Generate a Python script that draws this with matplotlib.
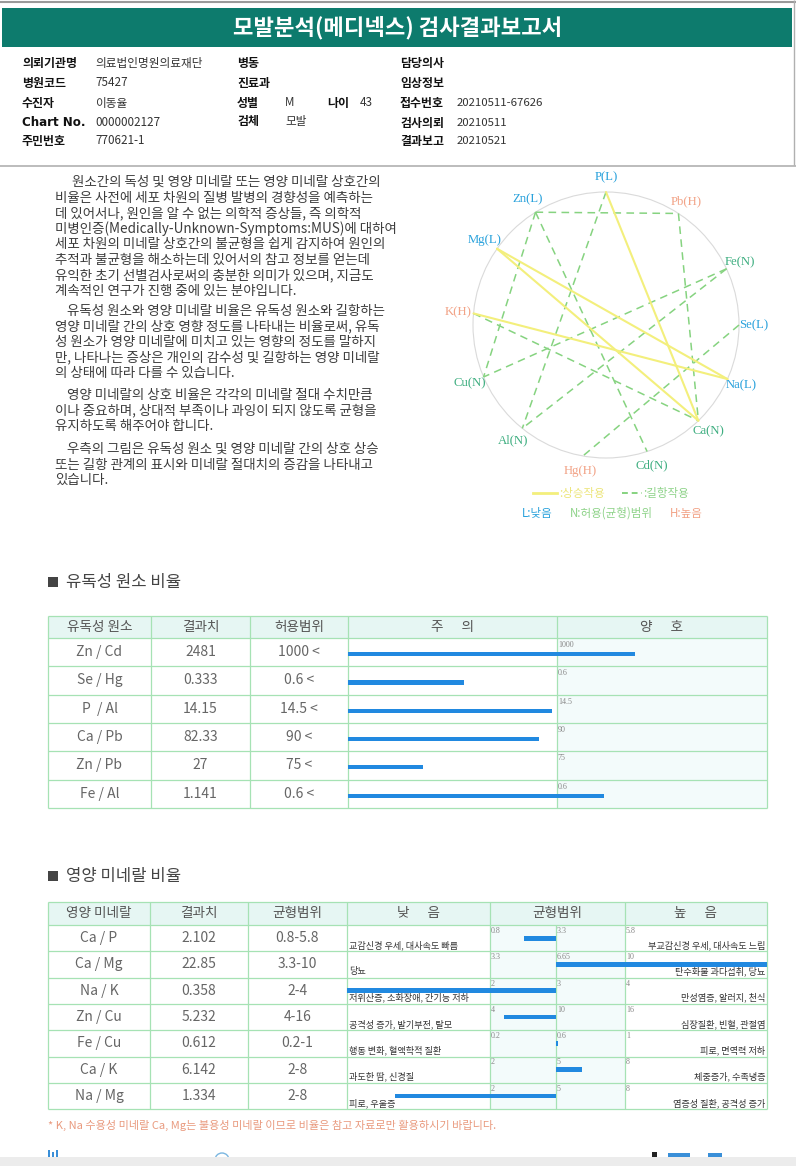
import matplotlib
matplotlib.use("Agg")
import matplotlib.pyplot as plt
import numpy as np
from matplotlib.patches import Rectangle, Circle

KR = ['Noto Sans CJK KR', 'DejaVu Sans']
SERIF = ['Liberation Serif', 'DejaVu Serif']

# ------------------------------------------------------------------ data
title = "모발분석(메디넥스) 검사결과보고서"
info_left_labels = ["의뢰기관명", "병원코드", "수진자", "Chart No.", "주민번호"]
info_left_values = ["의료법인명원의료재단", "75427", "이동율", "0000002127", "770621-1"]
info_right_labels = ["담당의사", "임상정보", "접수번호", "검사의뢰", "결과보고"]
info_right_values = ["", "", "20210511-67626", "20210511", "20210521"]

paragraphs = [
    ["원소간의 독성 및 영양 미네랄 또는 영양 미네랄 상호간의",
     "비율은 사전에 세포 차원의 질병 발병의 경향성을 예측하는",
     "데 있어서나, 원인을 알 수 없는 의학적 증상들, 즉 의학적",
     "미병인증(Medically-Unknown-Symptoms:MUS)에 대하여",
     "세포 차원의 미네랄 상호간의 불균형을 쉽게 감지하여 원인의",
     "추적과 불균형을 해소하는데 있어서의 참고 정보를 얻는데",
     "유익한 초기 선별검사로써의 충분한 의미가 있으며, 지금도",
     "계속적인 연구가 진행 중에 있는 분야입니다."],
    ["유독성 원소와 영양 미네랄 비율은 유독성 원소와 길항하는",
     "영양 미네랄 간의 상호 영향 정도를 나타내는 비율로써, 유독",
     "성 원소가 영양 미네랄에 미치고 있는 영향의 정도를 말하지",
     "만, 나타나는 증상은 개인의 감수성 및 길항하는 영양 미네랄",
     "의 상태에 따라 다를 수 있습니다."],
    ["영양 미네랄의 상호 비율은 각각의 미네랄 절대 수치만큼",
     "이나 중요하며, 상대적 부족이나 과잉이 되지 않도록 균형을",
     "유지하도록 해주어야 합니다."],
    ["우측의 그림은 유독성 원소 및 영양 미네랄 간의 상호 상승",
     "또는 길항 관계의 표시와 미네랄 절대치의 증감을 나타내고",
     "있습니다."],
]

# circle diagram
node_names = ["P", "Zn", "Mg", "K", "Cu", "Al", "Hg", "Cd", "Ca", "Na", "Se", "Fe", "Pb"]
node_status = ["L", "L", "L", "H", "N", "N", "H", "N", "N", "L", "L", "N", "H"]
synergy_pairs = [("P", "Ca"), ("Mg", "Na"), ("Mg", "Ca"), ("K", "Na")]
antagonism_pairs = [("Zn", "Pb"), ("Pb", "Ca"), ("Zn", "Cu"), ("Zn", "Cd"), ("P", "Al"),
                    ("Fe", "Cu"), ("Fe", "Al"), ("Se", "Hg"), ("K", "Ca")]

# toxic element ratios
toxic_ratios = ["Zn / Cd", "Se / Hg", "P  / Al", "Ca / Pb", "Zn / Pb", "Fe / Al"]
toxic_values = [2481, 0.333, 14.15, 82.33, 27, 1.141]
toxic_value_labels = ["2481", "0.333", "14.15", "82.33", "27", "1.141"]
toxic_limits = [1000, 0.6, 14.5, 90, 75, 0.6]
toxic_limit_labels = ["1000", "0.6", "14.5", "90", "75", "0.6"]

# nutritional mineral ratios
nutri_ratios = ["Ca / P", "Ca / Mg", "Na / K", "Zn / Cu", "Fe / Cu", "Ca / K", "Na / Mg"]
nutri_values = [2.102, 22.85, 0.358, 5.232, 0.612, 6.142, 1.334]
nutri_value_labels = ["2.102", "22.85", "0.358", "5.232", "0.612", "6.142", "1.334"]
nutri_low = [0.8, 3.3, 2, 4, 0.2, 2, 2]
nutri_mid = [3.3, 6.65, 3, 10, 0.6, 5, 5]
nutri_high = [5.8, 10, 4, 16, 1, 8, 8]
nutri_low_lbl = ["0.8", "3.3", "2", "4", "0.2", "2", "2"]
nutri_mid_lbl = ["3.3", "6.65", "3", "10", "0.6", "5", "5"]
nutri_high_lbl = ["5.8", "10", "4", "16", "1", "8", "8"]
nutri_range_lbl = ["0.8-5.8", "3.3-10", "2-4", "4-16", "0.2-1", "2-8", "2-8"]
nutri_low_text = ["교감신경 우세, 대사속도 빠름", "당뇨", "저위산증, 소화장애, 간기능 저하",
                  "공격성 증가, 발기부전, 탈모", "행동 변화, 혈액학적 질환", "과도한 땀, 신경질",
                  "피로, 우울증"]
nutri_high_text = ["부교감신경 우세, 대사속도 느림", "탄수화물 과다섭취, 당뇨", "만성염증, 알러지, 천식",
                   "심장질환, 빈혈, 관절염", "피로, 면역력 저하", "체중증가, 수족냉증",
                   "염증성 질환, 공격성 증가"]

footnote = "* K, Na 수용성 미네랄 Ca, Mg는 불용성 미네랄 이므로 비율은 참고 자료로만 활용하시기 바랍니다."

# ------------------------------------------------------------------ layout
W, H = 796, 1166
fig = plt.figure(figsize=(W / 100, H / 100), dpi=100)
ax = fig.add_axes([0, 0, 1, 1])
ax.set_xlim(0, W)
ax.set_ylim(H, 0)
ax.axis('off')

TEAL = '#0d7b6d'
GRID = '#a6e2b4'
HEAD_FILL = '#e6f6f3'
LIGHT_FILL = '#f3fbfb'
BAR = '#2189e0'
COL_L, COL_N, COL_H = '#2aa2dc', '#3eae80', '#f2a387'


def T(x, y, s, size=9, color='#222', ha='left', va='center', weight='normal', family=KR, **kw):
    ax.text(x, y, s, fontsize=size, color=color, ha=ha, va=va, fontweight=weight,
            family=family, **kw)


def hline(y, x0, x1, color=GRID, lw=0.9):
    ax.plot([x0, x1], [y, y], color=color, lw=lw, solid_capstyle='butt')


def vline(x, y0, y1, color=GRID, lw=0.9):
    ax.plot([x, x], [y0, y1], color=color, lw=lw, solid_capstyle='butt')


# ---- header box
hline(1.5, 0, W, color='#9a9a9a', lw=1.5)
hline(165.5, 0, W, color='#b0b0b0', lw=1.2)
vline(794, 0, 165, color='#b0b0b0', lw=1.0)
ax.add_patch(Rectangle((2, 8), 790, 39, color=TEAL, lw=0))
T(398, 28, title, size=16, color='white', ha='center', weight='bold')

info_y = [63, 83, 103, 123, 141]
for i, y in enumerate(info_y):
    T(22, y, info_left_labels[i], size=8.6, color='#111', weight='bold',
      family=['DejaVu Sans', 'Noto Sans CJK KR'] if i == 3 else KR)
    T(95, y, info_left_values[i], size=8.4, color='#333')
    T(400, y, info_right_labels[i], size=8.6, color='#111', weight='bold')
    if info_right_values[i]:
        T(457, y, info_right_values[i], size=8.2, color='#333')
T(237, info_y[0], "병동", size=8.6, color='#111', weight='bold')
T(237, info_y[1], "진료과", size=8.6, color='#111', weight='bold')
T(237, info_y[2], "성별", size=8.6, color='#111', weight='bold')
T(285, info_y[2], "M", size=8.4, color='#333')
T(327, info_y[2], "나이", size=8.6, color='#111', weight='bold')
T(360, info_y[2], "43", size=8.4, color='#333')
T(237, info_y[3] - 2, "검체", size=8.6, color='#111', weight='bold')
T(285, info_y[3] - 2, "모발", size=8.4, color='#333')

# ---- explanatory paragraphs
para_start = [182, 311, 395, 449]
line_h = 15.6
for p, lines in enumerate(paragraphs):
    for j, line in enumerate(lines):
        x = (72 if p == 0 else 67) if j == 0 else 55
        T(x, para_start[p] + j * line_h, line, size=9.7, color='#3c3c3c')

# ---- circle diagram
node_angles = [90, 122, 145, 175, 203, 231, 260, 288, 314, 336, 0, 25, 57]  # layout angles (deg)
cx, cy, R = 606, 325, 133
ax.add_patch(Circle((cx, cy), R, fill=False, ec='#dadada', lw=0.8))
pos = {}
for n, a in zip(node_names, node_angles):
    t = np.radians(a)
    pos[n] = (cx + R * np.cos(t), cy - R * np.sin(t))
for a, b in synergy_pairs:
    ax.plot([pos[a][0], pos[b][0]], [pos[a][1], pos[b][1]], color='#f3ef7c', lw=1.5,
            solid_capstyle='round', zorder=3)
for a, b in antagonism_pairs:
    ax.plot([pos[a][0], pos[b][0]], [pos[a][1], pos[b][1]], color='#86d380', lw=1.1,
            ls=(0, (5, 3.5)), zorder=2)
status_color = {"L": COL_L, "N": COL_N, "H": COL_H}
for n, s, a in zip(node_names, node_status, node_angles):
    t = np.radians(a)
    T(cx + 148 * np.cos(t), cy - 148 * np.sin(t), f"{n}({s})", size=9.2,
      color=status_color[s], ha='center', family=SERIF)

# legend
ax.plot([533, 557], [493, 493], color='#f3ef7c', lw=2)
T(559, 493, ":상승작용", size=8.3, color='#ece57a')
ax.plot([622, 642], [493, 493], color='#86d380', lw=1.4, ls=(0, (3, 2)))
T(643, 493, ":길항작용", size=8.3, color='#8fd38a')
T(522, 513, "L:낮음", size=8.3, color=COL_L)
T(570, 513, "N:허용(균형)범위", size=8.3, color='#8fd38a')
T(670, 513, "H:높음", size=8.3, color=COL_H)

# ---- section 1 : toxic ratios
ax.add_patch(Rectangle((48, 577), 10, 10, color='#444', lw=0))
T(66, 582, "유독성 원소 비율", size=12, color='#444')

t_cols = [48, 151, 250, 348, 557, 767]
t_top, t_head, t_row = 616, 22, 28.3
n_t = len(toxic_ratios)
t_bot = t_top + t_head + n_t * t_row
ax.add_patch(Rectangle((t_cols[0], t_top), t_cols[-1] - t_cols[0], t_head, color=HEAD_FILL, lw=0))
ax.add_patch(Rectangle((t_cols[4], t_top + t_head), t_cols[5] - t_cols[4], n_t * t_row,
                       color=LIGHT_FILL, lw=0))
for x in t_cols:
    vline(x, t_top, t_bot)
hline(t_top, t_cols[0], t_cols[-1])
for i in range(n_t + 1):
    hline(t_top + t_head + i * t_row, t_cols[0], t_cols[-1])
hy = t_top + t_head / 2
for k, h in enumerate(["유독성 원소", "결과치", "허용범위", "주      의", "양      호"]):
    T((t_cols[k] + t_cols[k + 1]) / 2, hy, h, size=9.8, color='#555', ha='center')

t_centers = t_top + t_head + (np.arange(n_t) + 0.5) * t_row
ratio_t = np.array(toxic_values) / np.array(toxic_limits)
t_end = np.interp(ratio_t, [0, 1, 5], [t_cols[3], t_cols[4], t_cols[5]])
ax.barh(t_centers + 2, t_end - t_cols[3], left=t_cols[3], height=4.2, color=BAR, zorder=4)
for i, yc in enumerate(t_centers):
    T((t_cols[0] + t_cols[1]) / 2, yc, toxic_ratios[i], size=10, color='#666', ha='center')
    T((t_cols[1] + t_cols[2]) / 2, yc, toxic_value_labels[i], size=10, color='#666', ha='center')
    T((t_cols[2] + t_cols[3]) / 2, yc, toxic_limit_labels[i] + " <", size=10, color='#666',
      ha='center')
    T(t_cols[4] + 1, yc - 7, toxic_limit_labels[i], size=5.8, color='#888', family=SERIF)

# ---- section 2 : nutritional ratios
ax.add_patch(Rectangle((48, 871), 10, 10, color='#444', lw=0))
T(66, 876, "영양 미네랄 비율", size=12, color='#444')

n_cols = [48, 150, 248, 347, 490, 556, 625, 767]
n_top, n_head, n_row = 902, 23, 26.3
n_n = len(nutri_ratios)
n_bot = n_top + n_head + n_n * n_row
ax.add_patch(Rectangle((n_cols[0], n_top), n_cols[-1] - n_cols[0], n_head, color=HEAD_FILL, lw=0))
ax.add_patch(Rectangle((n_cols[4], n_top + n_head), n_cols[6] - n_cols[4], n_n * n_row,
                       color=LIGHT_FILL, lw=0))
for k, x in enumerate(n_cols):
    vline(x, n_top if k != 5 else n_top + n_head, n_bot)
hline(n_top, n_cols[0], n_cols[-1])
for i in range(n_n + 1):
    hline(n_top + n_head + i * n_row, n_cols[0], n_cols[-1])
hy = n_top + n_head / 2
heads = [("영양 미네랄", 0, 1), ("결과치", 1, 2), ("균형범위", 2, 3), ("낮      음", 3, 4),
         ("균형범위", 4, 6), ("높      음", 6, 7)]
for h, a, b in heads:
    T((n_cols[a] + n_cols[b]) / 2, hy, h, size=9.8, color='#555', ha='center')

n_centers = n_top + n_head + (np.arange(n_n) + 0.5) * n_row
edges_px = [n_cols[3], n_cols[4], n_cols[5], n_cols[6], n_cols[7]]
n_pos = np.array([np.interp(v, [lo / 2, lo, mi, hi, 2 * hi], edges_px)
                  for v, lo, mi, hi in zip(nutri_values, nutri_low, nutri_mid, nutri_high)])
mid_pos = np.array([np.interp(mi, [lo / 2, lo, mi, hi, 2 * hi], edges_px)
                    for lo, mi, hi in zip(nutri_low, nutri_mid, nutri_high)])
left = np.minimum(n_pos, mid_pos)
width = np.maximum(np.abs(n_pos - mid_pos), 1.2)
ax.barh(n_centers, width, left=left, height=4.8, color=BAR, zorder=4)
for i, yc in enumerate(n_centers):
    top = yc - n_row / 2
    bot = yc + n_row / 2
    T((n_cols[0] + n_cols[1]) / 2, yc, nutri_ratios[i], size=10, color='#666', ha='center')
    T((n_cols[1] + n_cols[2]) / 2, yc, nutri_value_labels[i], size=10, color='#666', ha='center')
    T((n_cols[2] + n_cols[3]) / 2, yc, nutri_range_lbl[i], size=10, color='#666', ha='center')
    T(n_cols[4] + 1, top + 6, nutri_low_lbl[i], size=5.8, color='#888', family=SERIF)
    T(n_cols[5] + 1, top + 6, nutri_mid_lbl[i], size=5.8, color='#888', family=SERIF)
    T(n_cols[6] + 1, top + 6, nutri_high_lbl[i], size=5.8, color='#888', family=SERIF)
    T(n_cols[3] + 2, bot - 6, nutri_low_text[i], size=6.6, color='#333')
    T(n_cols[7] - 2, bot - 6, nutri_high_text[i], size=6.6, color='#333', ha='right')

T(48, 1125, footnote, size=8.0, color='#e99a7e')

# ---- cut-off footer
for k in range(3):
    ax.add_patch(Rectangle((48 + k * 4, 1150 + (k % 2) * 2), 2.2, 8, color='#3a8fd8', lw=0))
ax.add_patch(Circle((222, 1160), 7, fill=False, ec='#7ab6e0', lw=1))
ax.add_patch(Rectangle((652, 1152), 5, 6, color='#222', lw=0))
ax.add_patch(Rectangle((668, 1153), 22, 5, color='#3a8fd8', lw=0))
ax.add_patch(Rectangle((708, 1153), 14, 5, color='#3a8fd8', lw=0))
ax.add_patch(Rectangle((0, 1157), W, 9, color='#ececec', lw=0, zorder=10))

fig.savefig("out.png", dpi=100)
